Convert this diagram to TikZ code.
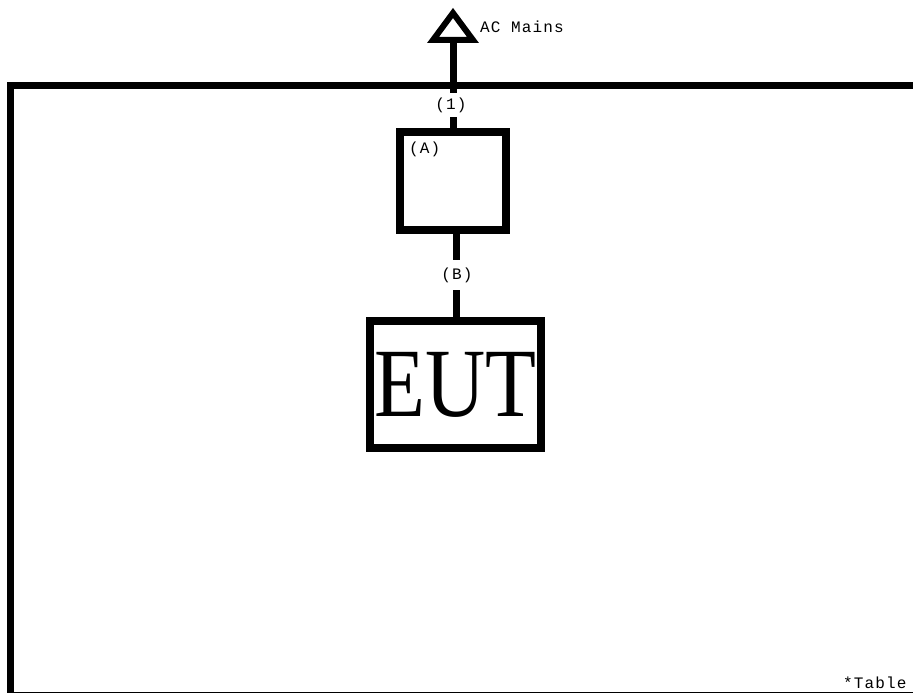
\documentclass[tikz,border=0pt]{standalone}
\usepackage{fontspec}
\usepackage{graphicx}
\newfontfamily\labelfont[LetterSpace=7]{Liberation Mono}
\newfontfamily\eutfont{Liberation Serif}
\begin{document}
\begin{tikzpicture}[x=1pt,y=-1pt,
  wire/.style={line width=7pt},
  unitbox/.style={draw, line width=#1, inner sep=0pt, outer sep=0pt},
  tag/.style={font=\labelfont\fontsize{16}{16}\selectfont, inner sep=0pt},
  gaptag/.style={tag, fill=white, minimum width=34pt, minimum height=#1}]
\useasboundingbox (0,0) rectangle (913,693);

% enclosure outline
\draw[line width=7pt] (913,85.5) -- (10.5,85.5) -- (10.5,693);
\draw[line width=1pt] (7,692) -- (913,692);

% AC mains symbol
\draw[line width=6pt, line join=miter] (433,40) -- (453,13) -- (473,40) -- cycle;
\coordinate (mains) at (453,40);
\node[tag, anchor=west] (acl) at (480,27) {AC Mains};

% unit (A) and EUT
\node[unitbox=7.5pt, minimum width=106pt, minimum height=98pt] (A) at (453,181) {};
\node[tag, anchor=west] (Alabel) at (409,149) {(A)};
\node[unitbox=8pt, minimum width=171pt, minimum height=127pt] (eut) at (455.5,384.5)
  {\eutfont\fontsize{98}{98}\selectfont\scalebox{0.85}[1]{EUT}};

% cables
\draw[wire] (mains) -- (A.north);
\draw[wire] (A.south -| 456,0) -- (eut.north -| 456,0);
\node[gaptag=24pt] (c1) at (451,105) {(1)};
\node[gaptag=30pt] (cB) at (457,275) {(B)};

% note
\node[tag, anchor=base west] (note) at (843,688) {*Table};
\end{tikzpicture}
\end{document}
